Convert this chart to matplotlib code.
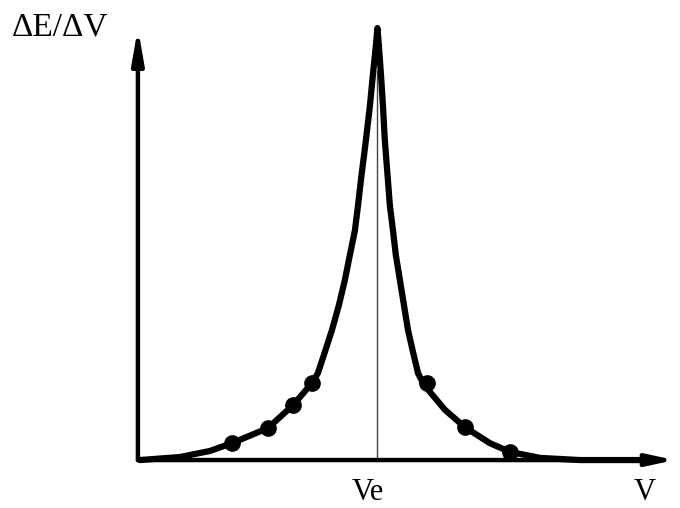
import matplotlib
matplotlib.use("Agg")
import matplotlib.pyplot as plt

# derivative titration curve, Ve taken as 10 units, peak height 100
curve_v = [0.08, 1.76, 3.01, 3.93, 5.44, 6.49, 7.28, 7.53, 7.82, 8.12, 8.41, 8.66,
           8.87, 9.08, 9.21, 9.33, 9.54, 9.71, 9.83, 9.96, 10.02,
           10.08, 10.17, 10.25, 10.33, 10.46, 10.54, 10.67, 10.79, 10.96, 11.13,
           11.30, 11.51, 11.72, 11.97, 12.85, 13.68, 14.73, 15.56, 16.82, 18.49, 21.0]
curve_d = [0.0, 0.7, 2.1, 3.9, 7.4, 12.7, 17.8, 20.1, 25.0, 30.1, 35.9, 41.7,
           47.5, 53.2, 59.0, 64.8, 74.1, 82.2, 89.1, 96.1, 100.0,
           96.1, 89.1, 82.2, 74.1, 64.8, 59.0, 53.2, 47.5, 41.7, 35.9,
           30.1, 25.0, 20.1, 17.4, 11.6, 7.6, 3.9, 1.9, 0.5, 0.0, 0.0]
points_v = [3.93, 5.44, 6.49, 7.28, 12.09, 13.68, 15.56]
points_d = [3.9, 7.4, 12.7, 17.8, 17.8, 7.6, 1.9]
ve = 10.0
x_label = "V"
y_label = "ΔE/ΔV"
ve_label = "Ve"

fig = plt.figure(figsize=(6.8, 5.08), dpi=100)
ax = fig.add_axes([0, 0, 1, 1])
ax.set_xlim(-5.77, 22.68)
ax.set_ylim(-11.1, 106.5)
ax.axis("off")

# axes with arrows
ax.annotate("", xy=(22.45, 0), xytext=(0, 0),
            arrowprops=dict(arrowstyle="-|>,head_length=1.6,head_width=0.35",
                            color="black", lw=3.2, shrinkA=0, shrinkB=0))
ax.annotate("", xy=(0, 100.0), xytext=(0, 0),
            arrowprops=dict(arrowstyle="-|>,head_length=2.0,head_width=0.35",
                            color="black", lw=3.2, shrinkA=0, shrinkB=0))

ax.plot([ve, ve], [0, 90], color="#444444", lw=1.0)
ax.plot(curve_v, curve_d, color="black", lw=4.5, solid_capstyle="round",
        solid_joinstyle="round")
ax.plot(points_v, points_d, "o", color="black", markersize=11)

serif = ["Liberation Serif", "DejaVu Serif"]
ax.text(-5.27, 100.2, y_label, family=serif, fontsize=24, ha="left", va="center")
ax.text(9.62, -10.9, ve_label, family=serif, fontsize=22, ha="center", va="bottom")
ax.text(21.2, -10.9, x_label, family=serif, fontsize=22, ha="center", va="bottom")

fig.savefig("out.png", dpi=100, facecolor="white")
